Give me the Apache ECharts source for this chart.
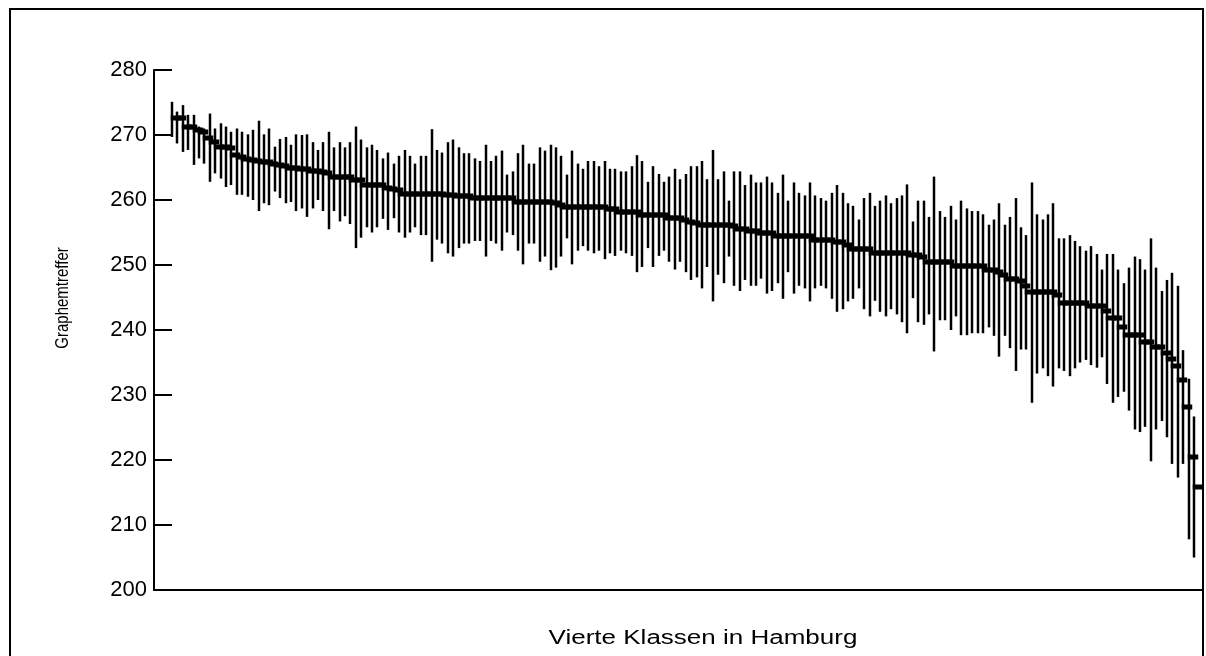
<!DOCTYPE html>
<html>
<head>
<meta charset="utf-8">
<script src="https://cdn.jsdelivr.net/npm/echarts@6/dist/echarts.min.js"></script>
<style>
  html, body { margin: 0; padding: 0; background: #fff; }
  #main { width: 1206px; height: 656px; }
</style>
</head>
<body>
<div id="main"></div>
<script>
// 轴标签
const yTicks = [200, 210, 220, 230, 240, 250, 260, 270, 280];
const xTitle = "Vierte Klassen in Hamburg";
const yTitle = "Graphemtreffer";

// 每个班级的平均值
const means = [
  272.6, 272.6, 271.3, 271.3, 270.8, 270.5, 269.5, 269.0, 268.2, 268.2, 268.0, 267.0, 266.6, 266.3, 266.2, 266.0, 265.9, 265.8, 265.5, 265.4, 265.3, 265.0, 264.9, 264.8, 264.7,
  264.5, 264.4, 264.3, 264.2, 263.6, 263.6, 263.6, 263.5, 263.1, 263.1, 262.3, 262.3, 262.3, 262.3, 261.9, 261.7, 261.6, 260.9, 260.9, 260.9, 260.9, 260.9, 260.9, 260.9, 260.9, 260.8, 260.8,
  260.6, 260.6, 260.6, 260.3, 260.3, 260.3, 260.3, 260.3, 260.3, 260.3, 260.3, 259.7, 259.7, 259.7, 259.7, 259.7, 259.7, 259.7, 259.6, 259.3, 259.0, 259.0, 259.0, 259.0, 259.0,
  259.0, 259.0, 259.0, 258.6, 258.6, 258.2, 258.2, 258.2, 258.2, 257.7, 257.7, 257.7, 257.7, 257.7, 257.2, 257.2, 257.2, 257.0, 256.6, 256.5, 256.2, 256.2, 256.2, 256.2, 256.2, 256.1,
  256.0, 255.6, 255.6, 255.3, 255.3, 254.9, 254.9, 254.9, 254.4, 254.4, 254.4, 254.4, 254.4, 254.4, 254.4, 253.8, 253.8, 253.8, 253.8, 253.6, 253.6, 253.1, 252.4, 252.4, 252.4, 252.4,
  251.9, 251.9, 251.9, 251.9, 251.9, 251.9, 251.9, 251.5, 251.5, 251.2, 250.5, 250.5, 250.5, 250.5, 250.5, 249.8, 249.8, 249.8, 249.8, 249.8, 249.8, 249.2, 249.2, 248.9, 248.5, 247.9, 247.9,
  247.5, 246.7, 245.9, 245.9, 245.9, 245.9, 245.9, 245.4, 244.2, 244.2, 244.2, 244.2, 244.2, 243.7, 243.7, 243.7, 243.0, 241.8, 241.8, 240.5, 239.2, 239.2, 239.2, 238.2, 238.2, 237.4, 237.4, 236.4, 235.5, 234.4, 232.3, 228.1, 220.4, 215.9
];

// 上限
const highs = [
  275.1, 273.6, 274.6, 273.1, 273.1, 271.3, 271.0, 273.3, 271.0, 271.8, 271.3, 270.5, 271.0, 270.5, 270.1, 270.8, 272.2, 270.1, 271.0, 268.2, 269.4, 269.7, 268.5, 270.1, 270.0,
  270.1, 268.9, 267.7, 268.9, 270.5, 268.1, 268.9, 268.1, 268.9, 271.3, 269.3, 268.1, 268.5, 267.7, 266.4, 267.3, 265.6, 266.8, 267.7, 266.8, 265.6, 266.8, 266.8, 270.9, 267.7, 267.3, 268.9,
  269.3, 268.1, 267.2, 267.2, 266.4, 266.0, 268.5, 266.0, 266.8, 267.6, 263.9, 264.4, 267.2, 268.5, 265.6, 265.6, 268.1, 267.6, 268.5, 268.1, 266.8, 263.9, 267.6, 265.6, 264.8,
  266.0, 266.0, 265.2, 266.0, 264.8, 264.8, 264.4, 264.4, 265.2, 266.9, 266.0, 262.8, 265.2, 264.0, 262.8, 263.6, 264.8, 263.2, 264.0, 265.2, 265.2, 266.0, 263.2, 267.7, 263.2, 264.4,
  259.9, 264.4, 264.4, 262.3, 263.9, 262.7, 262.7, 263.6, 262.7, 261.1, 263.9, 259.9, 262.7, 261.1, 260.7, 262.7, 260.7, 260.3, 259.9, 261.1, 262.3, 261.1, 259.5, 259.1, 257.0, 260.3,
  261.1, 259.1, 259.9, 260.7, 259.5, 260.3, 260.7, 262.4, 256.7, 259.9, 259.9, 257.4, 263.6, 258.3, 257.4, 259.1, 257.0, 259.9, 258.7, 258.3, 258.3, 257.8, 256.2, 257.0, 259.5, 256.2, 257.4,
  260.3, 255.8, 254.6, 262.7, 257.8, 257.0, 257.8, 259.5, 254.1, 254.1, 254.6, 253.7, 252.9, 252.2, 252.9, 251.7, 249.3, 251.7, 251.7, 249.3, 247.2, 249.6, 251.3, 250.9, 249.3, 254.1, 249.6, 246.0, 247.7, 248.8, 246.8, 236.9, 232.5, 226.7
];

// 下限
const lows = [
  269.7, 268.7, 267.4, 267.7, 265.4, 266.4, 265.6, 262.8, 264.1, 263.3, 262.0, 262.3, 260.8, 260.8, 260.5, 260.0, 258.3, 259.5, 259.2, 261.3, 260.3, 259.5, 259.7, 258.3, 258.7,
  257.4, 258.7, 260.0, 258.3, 255.5, 258.3, 256.7, 257.5, 256.3, 252.6, 254.2, 255.8, 255.0, 255.8, 257.1, 255.4, 257.2, 255.0, 254.2, 255.0, 255.8, 254.6, 254.6, 250.5, 253.9, 253.3, 251.8,
  251.3, 252.6, 253.3, 253.3, 253.7, 253.7, 251.3, 253.7, 253.3, 252.2, 255.0, 254.6, 252.2, 250.1, 253.3, 253.3, 250.5, 251.3, 249.2, 249.6, 251.3, 254.1, 250.1, 252.2, 252.9,
  252.2, 251.8, 252.2, 250.9, 251.8, 251.4, 252.2, 251.8, 251.4, 248.9, 249.7, 252.6, 249.7, 251.4, 252.2, 250.5, 249.3, 250.5, 248.9, 247.7, 248.1, 246.4, 249.7, 244.4, 248.5, 247.2,
  251.3, 246.8, 246.0, 247.7, 246.8, 246.8, 247.9, 245.6, 246.0, 247.2, 244.8, 248.9, 245.6, 246.8, 246.4, 244.4, 246.4, 246.8, 246.4, 244.8, 242.8, 243.2, 244.4, 244.8, 246.4, 243.2,
  242.1, 244.5, 242.8, 242.1, 243.2, 242.4, 241.2, 239.5, 244.9, 241.2, 240.8, 242.4, 236.7, 241.5, 241.5, 240.0, 242.1, 239.2, 239.2, 239.5, 239.5, 239.5, 240.4, 239.1, 235.9, 239.1, 237.2,
  233.7, 237.0, 237.0, 228.8, 233.3, 234.1, 232.9, 231.3, 234.1, 233.7, 232.9, 234.1, 235.0, 235.4, 234.6, 234.2, 235.8, 231.7, 228.8, 229.7, 230.5, 227.6, 224.7, 224.3, 225.1, 219.8, 224.7, 226.0, 223.5, 219.4, 217.3, 219.4, 207.8, 205.0
];

const chart = echarts.init(document.getElementById("main"), null, { renderer: "canvas" });

const seriesData = means.map((m, i) => [i + 1, lows[i], highs[i], m]);

// 误差线 + 平均值标记
const renderItem = (params, api) => {
  const x = api.value(0);
  const lo = api.coord([x, api.value(1)]);
  const hi = api.coord([x, api.value(2)]);
  const mid = api.coord([x, api.value(3)]);
  const px = Math.round(lo[0]);
  return {
    type: "group",
    children: [
      {
        type: "rect",
        shape: { x: px - 1.25, y: hi[1], width: 2.5, height: lo[1] - hi[1] },
        style: { fill: "#000" },
      },
      {
        type: "rect",
        shape: { x: px - 1.25, y: Math.round(mid[1]) - 2.5, width: 10.5, height: 5 },
        style: { fill: "#000" },
      },
    ],
  };
};

const font = "'Liberation Sans', Arial, sans-serif";

chart.setOption({
  backgroundColor: "#fff",
  animation: false,
  grid: { left: 154, right: 4, top: 70, bottom: 66, containLabel: false },
  xAxis: {
    type: "value",
    min: -2.33,
    max: 191.48,
    axisLine: { show: true, lineStyle: { color: "#000", width: 2 } },
    axisTick: { show: false },
    axisLabel: { show: false },
    splitLine: { show: false },
  },
  yAxis: {
    type: "value",
    min: yTicks[0],
    max: yTicks[yTicks.length - 1],
    interval: 10,
    axisLine: { show: true, onZero: false, lineStyle: { color: "#000", width: 2 } },
    axisTick: { show: true, inside: true, length: 18, lineStyle: { color: "#000", width: 2 } },
    axisLabel: { color: "#000", fontFamily: font, fontSize: 22, margin: 7 },
    splitLine: { show: false },
  },
  graphic: [
    {
      type: "rect",
      shape: { x: 10, y: 9, width: 1193, height: 700 },
      style: { fill: null, stroke: "#000", lineWidth: 2 },
      silent: true,
    },
    {
      type: "text",
      x: 703,
      y: 638,
      scaleX: 1.3,
      style: {
        text: xTitle,
        fill: "#000",
        font: "20px " + font,
        textAlign: "center",
        textVerticalAlign: "middle",
      },
    },
    {
      type: "text",
      x: 63,
      y: 298,
      rotation: Math.PI / 2,
      scaleY: 1.2,
      style: {
        text: yTitle,
        fill: "#000",
        font: "15px " + font,
        textAlign: "center",
        textVerticalAlign: "middle",
      },
    },
  ],
  series: [
    {
      type: "custom",
      renderItem: renderItem,
      data: seriesData,
      encode: { x: 0, y: [1, 2, 3] },
      clip: false,
    },
  ],
});
</script>
</body>
</html>
